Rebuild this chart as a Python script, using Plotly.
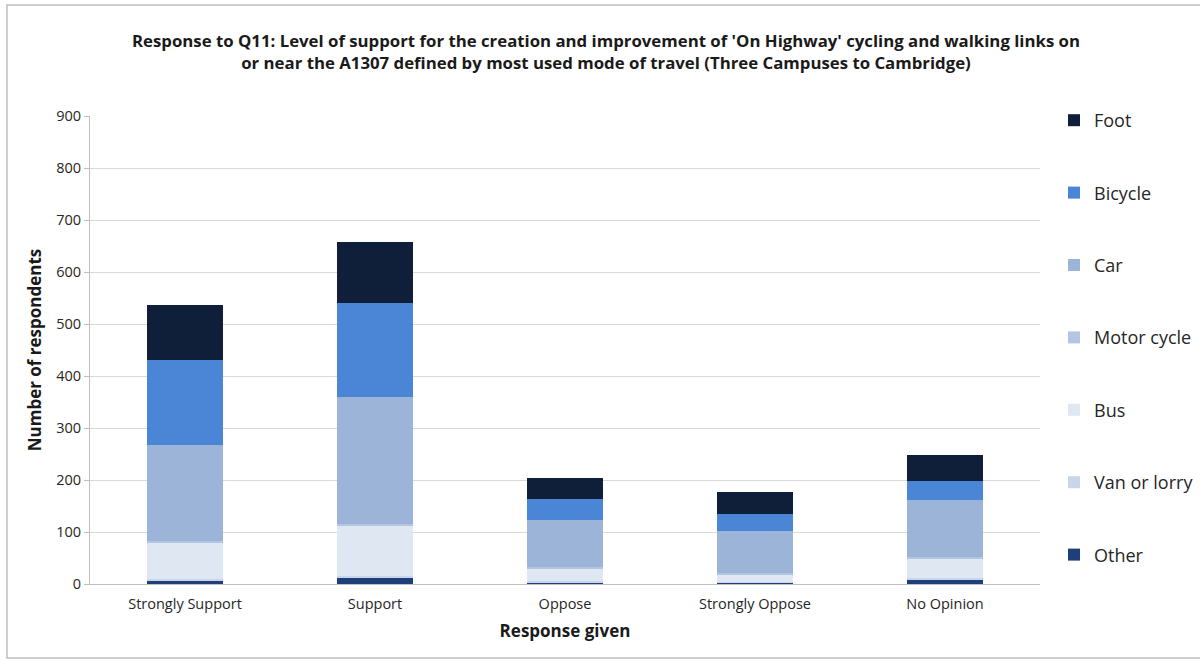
import plotly.graph_objects as go

# responses on the x axis
responses = ["Strongly Support", "Support", "Oppose", "Strongly Oppose", "No Opinion"]

# number of respondents per mode of travel (stacked bottom to top)
other = [7, 12, 3, 3, 8]
van_or_lorry = [3, 4, 2, 1, 3]
bus = [68, 95, 25, 15, 38]
motor_cycle = [4, 4, 3, 2, 3]
car = [185, 245, 90, 81, 110]
bicycle = [164, 180, 40, 33, 36]
foot = [105, 118, 41, 42, 50]

y_ticks = [0, 100, 200, 300, 400, 500, 600, 700, 800, 900]

series = [
    ("Other", other, "#1f3f7a"),
    ("Van or lorry", van_or_lorry, "#c9d6ea"),
    ("Bus", bus, "#dfe7f3"),
    ("Motor cycle", motor_cycle, "#b3c5e2"),
    ("Car", car, "#9cb4d8"),
    ("Bicycle", bicycle, "#4a85d6"),
    ("Foot", foot, "#0f1f3a"),
]

FONT = "Open Sans"
TEXT = "#262626"

fig = go.Figure()
for i, (name, values, colour) in enumerate(series):
    fig.add_trace(go.Bar(
        name=name,
        x=responses,
        y=values,
        marker=dict(color=colour, line=dict(width=0)),
        legendgroup=name,
        legendrank=len(series) - i,
    ))

fig.update_layout(
    barmode="stack",
    bargap=0.6,
    width=1200,
    height=661,
    margin=dict(l=90, r=160, t=116, b=77),
    paper_bgcolor="white",
    plot_bgcolor="white",
    font=dict(family=FONT, size=14, color=TEXT),
    title=dict(
        text="Response to Q11: Level of support for the creation and improvement of 'On Highway' cycling and walking links on"
             "<br>or near the A1307 defined by most used mode of travel (Three Campuses to Cambridge)",
        x=0.505,
        xanchor="center",
        y=1 - 47 / 661,
        yanchor="middle",
        font=dict(family=FONT, size=16.8, color="#1a1a1a", weight="bold"),
    ),
    xaxis=dict(
        title=dict(text="Response given", font=dict(size=17, weight="bold", color="#1a1a1a"), standoff=12),
        showline=True,
        linecolor="#bfbfbf",
        ticks="outside",
        ticklen=7,
        tickcolor="rgba(0,0,0,0)",
        tickfont=dict(size=14.5, color=TEXT),
    ),
    yaxis=dict(
        title=dict(text="Number of respondents", font=dict(size=17, weight="bold", color="#1a1a1a"), standoff=10),
        range=[0, 900],
        tickvals=y_ticks,
        showgrid=True,
        gridcolor="#d9d9d9",
        showline=True,
        linecolor="#bfbfbf",
        ticks="outside",
        ticklen=5,
        tickcolor="#bfbfbf",
        tickfont=dict(size=14.5, color=TEXT),
        zeroline=False,
    ),
    legend=dict(
        xref="container",
        yref="container",
        x=1054 / 1200,
        xanchor="left",
        y=1 - 102 / 661,
        yanchor="top",
        traceorder="grouped",
        tracegroupgap=46,
        font=dict(size=18, color=TEXT),
        itemwidth=30,
        maxheight=1,
    ),
    shapes=[
        dict(type="rect", xref="paper", yref="paper",
             x0=(7 - 90) / 950, x1=(1210 - 90) / 950,
             y0=(584 - 658) / 468, y1=(584 - 5) / 468,
             line=dict(color="#bfbfbf", width=1.5), fillcolor="rgba(0,0,0,0)", layer="below"),
    ],
)

fig.write_html(
    "out.html",
    config={"displayModeBar": False},
    post_script="document.body.style.margin='0';",
)
